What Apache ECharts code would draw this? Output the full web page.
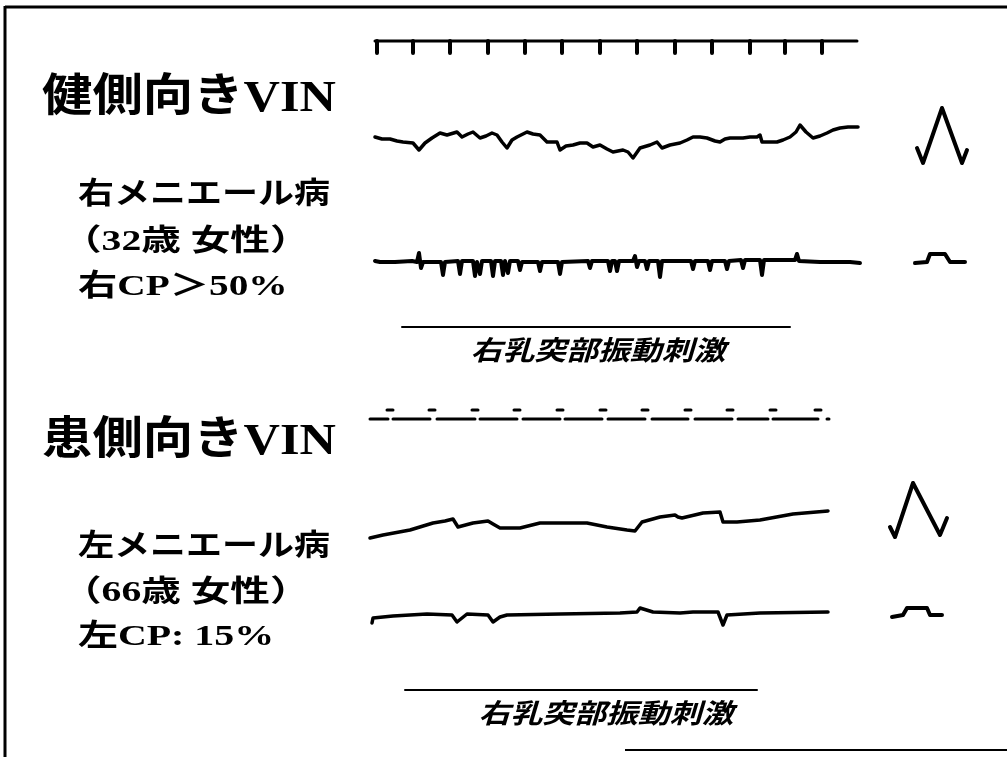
<!DOCTYPE html>
<html><head><meta charset="utf-8">
<script src="https://cdn.jsdelivr.net/npm/echarts@6/dist/echarts.min.js"></script>
<style>html,body{margin:0;padding:0;background:#fff;}#c{width:1007px;height:757px;}</style>
</head><body><div id="c"></div>
<script>
// ---- data: [time offset, amplitude] ----
const timingTicks1 = [17, 53, 90, 128, 165, 202, 240, 277, 315, 352, 390, 425, 462];
const timingSpan1 = [15, 497];
const vinHealthyH = [[15,3],[22,1],[30,1],[37,-1],[43,-2],[53,-3],[59,-10],[65,-3],[72,2],[80,7],[87,5],[97,8],[102,3],[108,6],[113,8],[120,2],[126,4],[132,7],[137,5],[142,-2],[147,-8],[152,0],[157,3],[167,8],[173,6],[180,5],[187,-2],[197,-2],[200,-10],[206,-6],[213,-5],[220,-3],[227,-3],[233,-7],[240,-5],[247,-9],[253,-12],[263,-10],[268,-12],[273,-18],[280,-8],[290,-5],[297,-2],[302,-8],[310,-5],[320,-3],[327,0],[333,3],[340,3],[347,2],[355,-1],[360,-2],[365,1],[370,2],[383,2],[390,3],[397,3],[400,5],[402,-2],[410,-2],[417,-2],[423,0],[430,3],[436,8],[440,15],[446,8],[453,2],[460,4],[467,7],[473,10],[480,12],[488,13],[498,13]];
const vinHealthyV = [[15,1],[20,0],[35,0],[52,1],[57,0],[59,9],[61,-6],[63,0],[81,0],[83,-13],[85,0],[98,1],[100,-12],[102,1],[113,1],[115,-14],[117,0],[118,1],[120,-12],[122,1],[131,1],[133,-14],[135,1],[141,1],[143,-13],[145,1],[146,1],[148,-11],[150,1],[158,1],[160,-8],[162,0],[178,0],[180,-9],[182,0],[198,0],[200,-12],[202,0],[228,1],[230,-6],[232,1],[248,1],[250,-9],[252,1],[255,1],[257,-9],[259,1],[273,1],[275,6],[277,-5],[279,1],[285,1],[287,-7],[289,1],[298,1],[300,-15],[302,1],[331,1],[333,-7],[335,1],[348,1],[350,-8],[352,1],[365,1],[367,-7],[369,1],[381,2],[383,-6],[385,2],[400,2],[402,-13],[404,2],[430,2],[435,2],[437,8],[439,1],[460,0],[475,0],[490,0],[500,-1]];
const calHealthyH = [[37,-8],[43,-23],[62,32],[82,-23],[87,-10]];
const calHealthyV = [[35,-1],[47,0],[50,8],[65,8],[70,0],[85,0]];
const timingDash2 = [[10,28],[33,70],[77,115],[120,157],[163,200],[205,242],[248,285],[292,328],[335,372],[378,408],[413,458],[467,469]];
const timingMarks2 = [30, 72, 115, 157, 200, 243, 285, 328, 370, 413, 458];
const vinLesionH = [[10,-13],[23,-10],[50,-5],[73,2],[85,4],[93,6],[98,-2],[113,2],[128,4],[133,1],[140,-3],[160,-3],[180,2],[207,2],[227,2],[247,-2],[267,-5],[275,-6],[282,3],[300,8],[315,10],[318,8],[322,7],[343,12],[360,13],[363,3],[377,3],[400,5],[433,11],[468,14]];
const vinLesionV = [[12,-8],[13,-3],[33,-1],[67,1],[92,0],[97,-7],[107,1],[128,0],[133,-7],[140,-2],[147,0],[200,1],[260,2],[277,3],[280,7],[293,3],[320,2],[333,3],[358,3],[363,-10],[367,0],[400,2],[468,3]];
const calLesionH = [[10,-2],[15,-12],[33,42],[60,-10],[67,7]];
const calLesionV = [[12,-2],[23,0],[27,7],[47,7],[50,0],[62,0]];
const stimSpan1 = [42, 430];
const stimSpan2 = [45, 397];
const stimLabel = '右乳突部振動刺激';
const titleHealthy = '健側向きVIN';
const titleLesion = '患側向きVIN';
const caseHealthy = ['右メニエール病', '（32歳 女性）', '右CP＞50%'];
const caseLesion = ['左メニエール病', '（66歳 女性）', '左CP: 15%'];

// ---- build ----
const grids = [], xAxes = [], yAxes = [], series = [];
function panel(left, top, width, height) {
  const i = grids.length;
  grids.push({left: left, top: top, width: width, height: height, show: false});
  xAxes.push({type: 'value', gridIndex: i, min: 0, max: width, show: false});
  yAxes.push({type: 'value', gridIndex: i, min: -height / 2, max: height / 2, show: false});
  return i;
}
function line(idx, data, w) {
  series.push({type: 'line', xAxisIndex: idx, yAxisIndex: idx, data: data, symbol: 'none',
    connectNulls: false, silent: true,
    lineStyle: {color: '#000', width: w || 3, join: 'round', cap: 'round'}});
}
const L = 360, W = 510;
let p = panel(L, 21, W, 40);
line(p, [[timingSpan1[0], 0], [timingSpan1[1], 0]], 3);
let tk = [];
timingTicks1.forEach(t => { tk.push([t, 0], [t, -12], null); });
line(p, tk, 4);
p = panel(L, 100, W, 80); line(p, vinHealthyH, 3.5);
p = panel(L, 222, W, 80); line(p, vinHealthyV, 4);
p = panel(880, 100, 100, 80); line(p, calHealthyH, 4);
p = panel(880, 222, 100, 80); line(p, calHealthyV, 4);
p = panel(L, 307, W, 40); line(p, [[stimSpan1[0], 0], [stimSpan1[1], 0]], 2);
p = panel(L, 399, W, 40);
let ds = []; timingDash2.forEach(s => { ds.push([s[0], 0], [s[1], 0], null); });
line(p, ds, 3);
let mk = []; timingMarks2.forEach(t => { mk.push([t - 3, 9], [t + 3, 9], null); });
line(p, mk, 3);
p = panel(L, 485, W, 80); line(p, vinLesionH, 3.5);
p = panel(L, 575, W, 80); line(p, vinLesionV, 3.5);
p = panel(880, 475, 100, 100); line(p, calLesionH, 4);
p = panel(880, 575, 100, 80); line(p, calLesionV, 4);
p = panel(L, 670, W, 40); line(p, [[stimSpan2[0], 0], [stimSpan2[1], 0]], 2);

const FF = '"Liberation Serif", "Noto Sans CJK JP", serif';
function txt(s, x, y, size, sx, extra) {
  return Object.assign({type: 'text', x: x, y: y, scaleX: sx, silent: true,
    style: {text: s, fill: '#000', fontFamily: FF, fontWeight: 'bold', fontSize: size, textVerticalAlign: 'top'}}, extra || {});
}
function stim(x, y) {
  return {type: 'text', x: x, y: y, scaleX: 1.18, silent: true,
    style: {text: stimLabel, fill: '#000', fontFamily: FF, fontWeight: 'bold', fontStyle: 'italic', fontSize: 27, textAlign: 'center', textVerticalAlign: 'middle'}};
}
const graphic = [
  {type: 'line', shape: {x1: 5, y1: 7, x2: 1007, y2: 7}, style: {stroke: '#000', lineWidth: 3}},
  {type: 'line', shape: {x1: 5, y1: 6, x2: 5, y2: 757}, style: {stroke: '#000', lineWidth: 3}},
  {type: 'line', shape: {x1: 625, y1: 750, x2: 1007, y2: 750}, style: {stroke: '#000', lineWidth: 2}},
  txt(titleHealthy, 42, 77, 45, 1.12),
  txt(caseHealthy[0], 78, 180, 30, 1.2),
  txt(caseHealthy[1], 62, 227, 30, 1.32),
  txt(caseHealthy[2], 78, 272, 30, 1.31),
  txt(titleLesion, 42, 420, 45, 1.12),
  txt(caseLesion[0], 78, 532, 30, 1.2),
  txt(caseLesion[1], 62, 578, 30, 1.32),
  txt(caseLesion[2], 78, 622, 30, 1.33),
  stim(598, 353),
  stim(606, 716)
];
const chart = echarts.init(document.getElementById('c'), null, {renderer: 'canvas'});
chart.setOption({animation: false, backgroundColor: '#fff', grid: grids, xAxis: xAxes, yAxis: yAxes, series: series, graphic: graphic});
</script></body></html>
